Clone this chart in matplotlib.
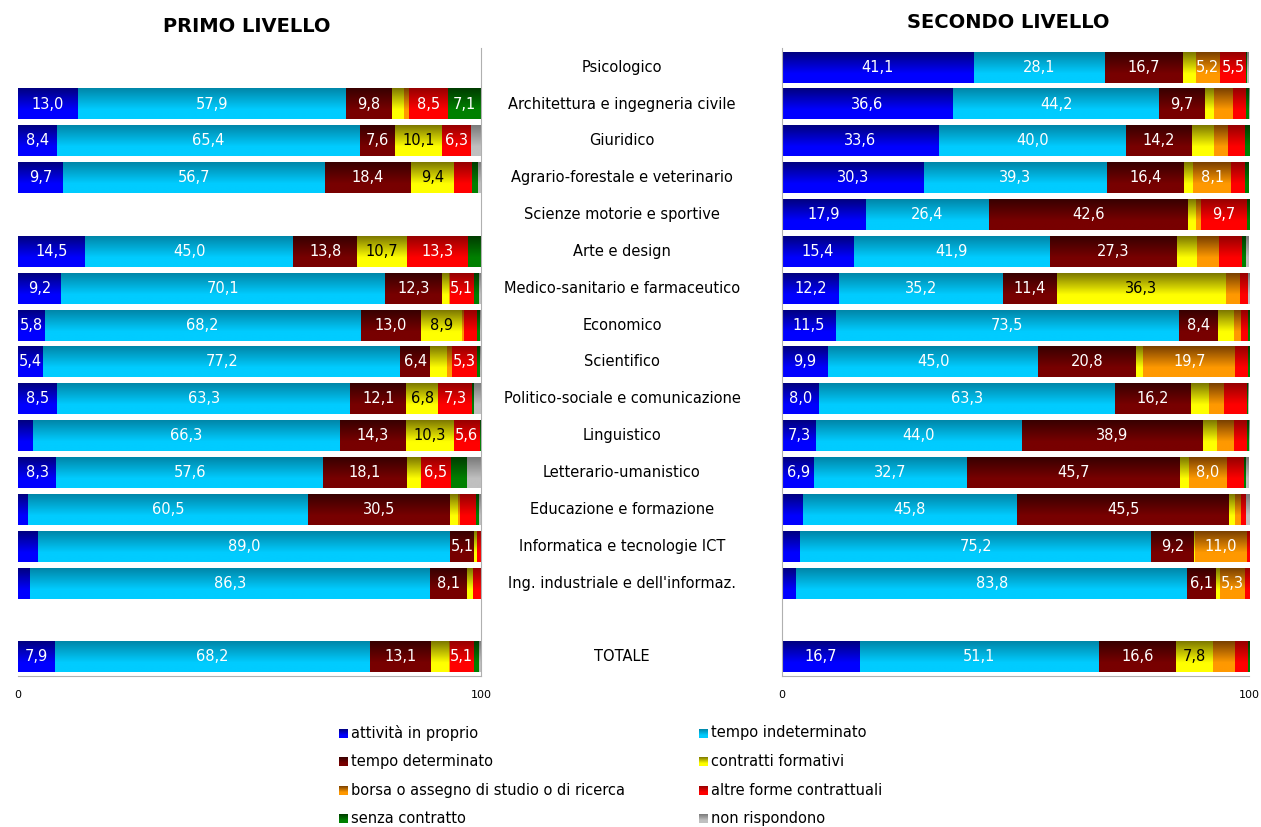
import numpy as np
import matplotlib
matplotlib.use("Agg")
import matplotlib.pyplot as plt
from matplotlib.colors import LinearSegmentedColormap
from matplotlib.transforms import blended_transform_factory

# categories, top to bottom (blank row before TOTALE)
categories = ["Psicologico", "Architettura e ingegneria civile", "Giuridico",
              "Agrario-forestale e veterinario", "Scienze motorie e sportive",
              "Arte e design", "Medico-sanitario e farmaceutico", "Economico",
              "Scientifico", "Politico-sociale e comunicazione", "Linguistico",
              "Letterario-umanistico", "Educazione e formazione",
              "Informatica e tecnologie ICT", "Ing. industriale e dell'informaz.",
              "TOTALE"]
rows = list(range(15)) + [16]

series_names = ["attività in proprio", "tempo indeterminato", "tempo determinato",
                "contratti formativi", "borsa o assegno di studio o di ricerca",
                "altre forme contrattuali", "senza contratto", "non rispondono"]

# PRIMO LIVELLO
primo_proprio = [0, 13.0, 8.4, 9.7, 0, 14.5, 9.2, 5.8, 5.4, 8.5, 3.2, 8.3, 2.2, 4.4, 2.6, 7.9]
primo_indet = [0, 57.9, 65.4, 56.7, 0, 45.0, 70.1, 68.2, 77.2, 63.3, 66.3, 57.6, 60.5, 89.0, 86.3, 68.2]
primo_det = [0, 9.8, 7.6, 18.4, 0, 13.8, 12.3, 13.0, 6.4, 12.1, 14.3, 18.1, 30.5, 5.1, 8.1, 13.1]
primo_form = [0, 2.6, 10.1, 9.4, 0, 10.7, 1.4, 8.9, 3.6, 6.8, 10.3, 3.0, 1.9, 0.6, 1.3, 3.9]
primo_borsa = [0, 1.1, 0, 0, 0, 0, 0.3, 0.4, 1.2, 0, 0, 0, 0.4, 0, 0, 0.2]
primo_altre = [0, 8.5, 6.3, 3.8, 0, 13.3, 5.1, 2.9, 5.3, 7.3, 5.6, 6.5, 3.5, 0.9, 1.7, 5.1]
primo_senza = [0, 7.1, 0, 1.4, 0, 2.7, 1.1, 0.6, 0.6, 0.4, 0.3, 3.5, 0.6, 0, 0, 1.2]
primo_nonrisp = [0, 0, 2.2, 0.6, 0, 0, 0.5, 0.2, 0.3, 1.6, 0, 3.0, 0.4, 0, 0, 0.4]

# SECONDO LIVELLO
secondo_proprio = [41.1, 36.6, 33.6, 30.3, 17.9, 15.4, 12.2, 11.5, 9.9, 8.0, 7.3, 6.9, 4.5, 3.9, 3.0, 16.7]
secondo_indet = [28.1, 44.2, 40.0, 39.3, 26.4, 41.9, 35.2, 73.5, 45.0, 63.3, 44.0, 32.7, 45.8, 75.2, 83.8, 51.1]
secondo_det = [16.7, 9.7, 14.2, 16.4, 42.6, 27.3, 11.4, 8.4, 20.8, 16.2, 38.9, 45.7, 45.5, 9.2, 6.1, 16.6]
secondo_form = [2.7, 2.1, 4.8, 2.1, 1.8, 4.2, 36.3, 3.4, 1.7, 3.9, 3.0, 1.9, 1.3, 0.2, 0.9, 7.8]
secondo_borsa = [5.2, 3.9, 3.0, 8.1, 1.1, 4.8, 3.0, 1.5, 19.7, 3.2, 3.6, 8.0, 1.1, 11.0, 5.3, 4.9]
secondo_altre = [5.5, 2.8, 3.5, 3.0, 9.7, 4.9, 1.6, 1.4, 2.6, 4.9, 2.8, 3.8, 1.1, 0.5, 0.9, 2.6]
secondo_senza = [0.3, 0.6, 0.9, 0.8, 0.5, 0.9, 0, 0.3, 0.3, 0.3, 0.3, 0.4, 0, 0, 0, 0.3]
secondo_nonrisp = [0.4, 0.1, 0, 0, 0, 0.6, 0.3, 0, 0, 0.2, 0.1, 0.6, 0.7, 0, 0, 0]

primo = [primo_proprio, primo_indet, primo_det, primo_form,
         primo_borsa, primo_altre, primo_senza, primo_nonrisp]
secondo = [secondo_proprio, secondo_indet, secondo_det, secondo_form,
           secondo_borsa, secondo_altre, secondo_senza, secondo_nonrisp]

# (top, bottom) colours of the vertical gradient
grad_colors = [("#000080", "#0000ff"), ("#0086a8", "#00ccff"),
               ("#380000", "#780000"), ("#7d7800", "#ffff00"),
               ("#7a4000", "#ff9900"), ("#960000", "#ff0000"),
               ("#003c00", "#008000"), ("#7a7a7a", "#c0c0c0")]
cmaps = [LinearSegmentedColormap.from_list("g%d" % i, [(0, a), (0.7, b), (1, b)])
         for i, (a, b) in enumerate(grad_colors)]
text_colors = ["white", "white", "white", "black", "white", "white", "white", "white"]
grad = np.linspace(0, 1, 64).reshape(-1, 1)

fig = plt.figure(figsize=(12.61, 8.27), dpi=100)
axL = fig.add_axes([18 / 1261, 1 - 676 / 827, 463 / 1261, 628 / 827])
axR = fig.add_axes([782 / 1261, 1 - 676 / 827, 467 / 1261, 628 / 827])


def draw_panel(ax, data):
    left = np.zeros(len(rows))
    for k, vals in enumerate(data):
        vals = np.array(vals, dtype=float)
        bars = ax.barh(rows, vals, left=left, height=0.84, color=grad_colors[k][1])
        for bar, v in zip(bars, vals):
            if v <= 0:
                continue
            x0, y0 = bar.get_x(), bar.get_y()
            w, h = bar.get_width(), bar.get_height()
            # gradient fill over the bar
            ax.imshow(grad, cmap=cmaps[k], aspect="auto", origin="upper",
                      extent=(x0, x0 + w, y0 + h, y0), interpolation="bilinear",
                      zorder=2)
            if v >= 5:
                ax.text(x0 + w / 2, y0 + h / 2, ("%.1f" % v).replace(".", ","),
                        ha="center", va="center", fontsize=10.5,
                        color=text_colors[k], zorder=4)
        left += vals
    ax.set_xlim(0, 100)
    ax.set_ylim(16.52, -0.52)
    ax.set_yticks([])
    ax.set_xticks([0, 100])
    ax.set_xticklabels(["0", "100"], fontsize=8)
    ax.tick_params(axis="x", length=0, pad=10)
    for s in ax.spines.values():
        s.set_color("#b0b0b0")
    ax.spines["top"].set_visible(False)


draw_panel(axL, primo)
axL.spines["left"].set_visible(False)
draw_panel(axR, secondo)
axR.spines["right"].set_visible(False)

# category labels in the middle
tr = blended_transform_factory(fig.transFigure, axR.transData)
for r, c in zip(rows, categories):
    fig.text(622 / 1261, r, c, transform=tr, ha="center", va="center", fontsize=10.5)

fig.text(247 / 1261, 1 - 27 / 827, "PRIMO LIVELLO", ha="center", va="center",
         fontsize=14, fontweight="bold")
fig.text(1008 / 1261, 1 - 22 / 827, "SECONDO LIVELLO", ha="center", va="center",
         fontsize=14, fontweight="bold")

# legend, two columns, small gradient squares
for i, name in enumerate(series_names):
    col, row = i % 2, i // 2
    xs = (339 + col * 360) / 1261
    ys = 1 - (733 + 28.6 * row) / 827
    sq = fig.add_axes([xs, ys - 4.5 / 827, 9 / 1261, 9 / 827])
    sq.imshow(grad, cmap=cmaps[i], aspect="auto", interpolation="bilinear")
    sq.axis("off")
    fig.text(xs + 12 / 1261, ys, name, ha="left", va="center", fontsize=10.5)

fig.savefig("out.png", dpi=100)
